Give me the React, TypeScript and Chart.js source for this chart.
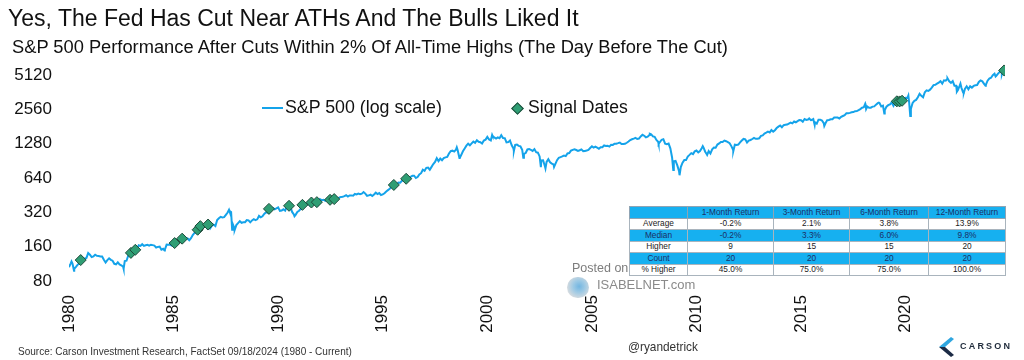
import React, { useEffect, useRef } from "react";
import { Chart, registerables } from "chart.js";

Chart.register(...registerables);

// Monthly S&P 500 closes, Jan 1980 onward (month-end values)
const spx1980s = [
  114.16, 113.66, 102.09, 106.29, 111.24, 114.24, 121.67, 122.38, 125.46, 127.47, 140.52, 135.76,
  129.55, 131.27, 136.0, 132.81, 132.59, 131.21, 130.92, 122.79, 116.18, 121.89, 126.35, 122.55,
  120.4, 113.11, 111.96, 116.44, 111.88, 109.61, 107.09, 119.51, 120.42, 133.71, 138.54, 140.64,
  145.3, 148.06, 152.96, 164.42, 162.39, 168.11, 162.56, 164.4, 166.07, 163.55, 166.4, 164.93,
  163.41, 157.06, 159.18, 160.05, 150.55, 153.18, 150.66, 166.68, 166.1, 166.09, 163.58, 167.24,
  179.63, 181.18, 180.66, 179.83, 189.55, 191.85, 190.92, 188.63, 182.08, 189.82, 202.17, 211.28,
  211.78, 226.92, 238.9, 235.52, 247.35, 250.84, 236.12, 252.93, 231.32, 243.98, 249.22, 242.17,
  274.08, 284.2, 291.7, 288.36, 290.1, 304.0, 318.66, 329.8, 321.83, 251.79, 230.3, 247.08,
  257.07, 267.82, 258.89, 261.33, 262.16, 273.5, 272.02, 261.52, 271.91, 278.97, 273.7, 277.72,
  297.47, 288.86, 294.87, 309.64, 320.52, 317.98, 346.08, 351.45, 349.15, 340.36, 345.99, 353.4,
];
const spx1990s = [
  329.08, 331.89, 339.94, 330.8, 361.23, 358.02, 356.15, 322.56, 306.05, 304.0, 322.22, 330.22,
  343.93, 367.07, 375.22, 375.35, 389.83, 371.16, 387.81, 395.43, 387.86, 392.46, 375.22, 417.09,
  408.79, 412.7, 403.69, 414.95, 415.35, 408.14, 424.21, 414.03, 417.8, 418.68, 431.35, 435.71,
  438.78, 443.38, 451.67, 440.19, 450.19, 450.53, 448.13, 463.56, 458.93, 467.83, 461.79, 466.45,
  481.61, 467.14, 445.77, 450.91, 456.5, 444.27, 458.26, 475.49, 462.69, 472.35, 453.69, 459.27,
  470.42, 487.39, 500.71, 514.71, 533.4, 544.75, 562.06, 561.88, 584.41, 581.5, 605.37, 615.93,
  636.02, 640.43, 645.5, 654.17, 669.12, 670.63, 639.95, 651.99, 687.33, 705.27, 757.02, 740.74,
  786.16, 790.82, 757.12, 801.34, 848.28, 885.14, 954.29, 899.47, 947.28, 914.62, 955.4, 970.43,
  980.28, 1049.34, 1101.75, 1111.75, 1090.82, 1133.84, 1120.67, 957.28, 1017.01, 1098.67, 1163.63, 1229.23,
  1279.64, 1238.33, 1286.37, 1335.18, 1301.84, 1372.71, 1328.72, 1320.41, 1282.71, 1362.93, 1388.91, 1469.25,
];
const spx2000s = [
  1394.46, 1366.42, 1498.58, 1452.43, 1420.6, 1454.6, 1430.83, 1517.68, 1436.51, 1429.4, 1314.95, 1320.28,
  1366.01, 1239.94, 1160.33, 1249.46, 1255.82, 1224.38, 1211.23, 1133.58, 1040.94, 1059.78, 1139.45, 1148.08,
  1130.2, 1106.73, 1147.39, 1076.92, 1067.14, 989.82, 911.62, 916.07, 815.28, 885.76, 936.31, 879.82,
  855.7, 841.15, 848.18, 916.92, 963.59, 974.5, 990.31, 1008.01, 995.97, 1050.71, 1058.2, 1111.92,
  1131.13, 1144.94, 1126.21, 1107.3, 1120.68, 1140.84, 1101.72, 1104.24, 1114.58, 1130.2, 1173.82, 1211.92,
  1181.27, 1203.6, 1180.59, 1156.85, 1191.5, 1191.33, 1234.18, 1220.33, 1228.81, 1207.01, 1249.48, 1248.29,
  1280.08, 1280.66, 1294.83, 1310.61, 1270.09, 1270.2, 1276.66, 1303.82, 1335.85, 1377.94, 1400.63, 1418.3,
  1438.24, 1406.82, 1420.86, 1482.37, 1530.62, 1503.35, 1455.27, 1473.99, 1526.75, 1549.38, 1481.14, 1468.36,
  1378.55, 1330.63, 1322.7, 1385.59, 1400.38, 1280.0, 1267.38, 1282.83, 1166.36, 968.75, 896.24, 903.25,
  825.88, 735.09, 797.87, 872.81, 919.14, 919.32, 987.48, 1020.62, 1057.08, 1036.19, 1095.63, 1115.1,
];
const spx2010s = [
  1073.87, 1104.49, 1169.43, 1186.69, 1089.41, 1030.71, 1101.6, 1049.33, 1141.2, 1183.26, 1180.55, 1257.64,
  1286.12, 1327.22, 1325.83, 1363.61, 1345.2, 1320.64, 1292.28, 1218.89, 1131.42, 1253.3, 1246.96, 1257.6,
  1312.41, 1365.68, 1408.47, 1397.91, 1310.33, 1362.16, 1379.32, 1406.58, 1440.67, 1412.16, 1416.18, 1426.19,
  1498.11, 1514.68, 1569.19, 1597.57, 1630.74, 1606.28, 1685.73, 1632.97, 1681.55, 1756.54, 1805.81, 1848.36,
  1782.59, 1859.45, 1872.34, 1883.95, 1923.57, 1960.23, 1930.67, 2003.37, 1972.29, 2018.05, 2067.56, 2058.9,
  1994.99, 2104.5, 2067.89, 2085.51, 2107.39, 2063.11, 2103.84, 1972.18, 1920.03, 2079.36, 2080.41, 2043.94,
  1940.24, 1932.23, 2059.74, 2065.3, 2096.95, 2098.86, 2173.6, 2170.95, 2168.27, 2126.15, 2198.81, 2238.83,
  2278.87, 2363.64, 2362.72, 2384.2, 2411.8, 2423.41, 2470.3, 2471.65, 2519.36, 2575.26, 2647.58, 2673.61,
  2823.81, 2713.83, 2640.87, 2648.05, 2705.27, 2718.37, 2816.29, 2901.52, 2913.98, 2711.74, 2760.17, 2506.85,
  2704.1, 2784.49, 2834.4, 2945.83, 2752.06, 2941.76, 2980.38, 2926.46, 2976.74, 3037.56, 3140.98, 3230.78,
];
const spx2020s = [
  3225.52, 2954.22, 2584.59, 2912.43, 3044.31, 3100.29, 3271.12, 3500.31, 3363.0, 3269.96, 3621.63, 3756.07,
  3714.24, 3811.15, 3972.89, 4181.17, 4204.11, 4297.5, 4395.26, 4522.68, 4307.54, 4605.38, 4567.0, 4766.18,
  4515.55, 4373.94, 4530.41, 4131.93, 4132.15, 3785.38, 4130.29, 3955.0, 3585.62, 3871.98, 4080.11, 3839.5,
  4076.6, 3970.15, 4109.31, 4169.48, 4179.83, 4450.38, 4588.96, 4507.66, 4288.05, 4193.8, 4567.8, 4769.83,
  4845.65, 5096.27, 5254.35, 5035.69, 5277.51, 5460.48, 5522.3, 5648.4,
];

// Notable intra-month levels (decimal year, value)
const intraDates = [
  1980.0, 1980.12, 1980.24, 1982.61, 1984.57, 1987.65, 1987.8, 1987.92, 1990.54, 1990.78,
  1998.54, 1998.68, 2000.23, 2001.27, 2001.72, 2002.56, 2002.78, 2003.19, 2007.77, 2008.19,
  2008.89, 2009.19, 2010.3, 2010.51, 2011.76, 2015.39, 2015.65, 2016.11, 2018.07, 2018.11,
  2018.72, 2018.98, 2020.13, 2020.22, 2022.0, 2022.45, 2022.62, 2022.78, 2023.82, 2024.3,
  2024.54, 2024.6, 2024.71,
];
const intraValues = [
  105.76, 118.44, 98.22, 102.42, 147.82, 336.77, 224.84, 223.92, 368.95, 295.46,
  1186.75, 959.44, 1527.46, 1103.25, 965.8, 797.7, 776.76, 800.73, 1565.15, 1273.37,
  752.44, 676.53, 1217.28, 1022.58, 1099.23, 2130.82, 1867.61, 1829.08, 2872.87, 2581.0,
  2930.75, 2351.1, 3386.15, 2237.4, 4796.56, 3666.77, 4305.2, 3577.03, 4117.37, 4967.23,
  5667.2, 5186.33, 5618.26,
];

// Signal dates: Fed cuts within 2% of all-time highs
const signalDates = [
  1980.56, 1982.96, 1983.17, 1985.05, 1985.41, 1986.15, 1986.28, 1986.65, 1989.56, 1990.52,
  1991.16, 1991.59, 1991.85, 1992.48, 1992.68, 1995.53, 1996.12, 2019.58, 2019.71, 2019.83, 2024.71,
];
const signalValues = [
  122, 141, 150, 172, 188, 225, 242, 250, 343, 365,
  372, 390, 393, 412, 418, 556, 630, 3013, 3006, 3046, 5618,
];

const xTickYears = [1980, 1985, 1990, 1995, 2000, 2005, 2010, 2015, 2020];
const yTickValues = [80, 160, 320, 640, 1280, 2560, 5120];

const tableHeader = ["", "1-Month Return", "3-Month Return", "6-Month Return", "12-Month Return"];
const tableRows = [
  ["Average", "-0.2%", "2.1%", "3.8%", "13.9%"],
  ["Median", "-0.2%", "3.3%", "6.0%", "9.8%"],
  ["Higher", "9", "15", "15", "20"],
  ["Count", "20", "20", "20", "20"],
  ["% Higher", "45.0%", "75.0%", "75.0%", "100.0%"],
];
const tableBlueRows = [false, true, false, true, false];

const FONT = "'Liberation Sans', Arial, Helvetica, sans-serif";
const LINE_COLOR = "#14a3ea";
const DIAMOND_FILL = "#2f9e74";
const DIAMOND_EDGE = "#1d4a3a";
const TABLE_BLUE = "#16b0f0";

function buildLine() {
  const monthly = [...spx1980s, ...spx1990s, ...spx2000s, ...spx2010s, ...spx2020s];
  const pts: { x: number; y: number }[] = monthly.map((v, i) => ({ x: 1980 + (i + 1) / 12, y: v }));
  intraDates.forEach((d, i) => pts.push({ x: d, y: intraValues[i] }));
  pts.sort((a, b) => a.x - b.x);
  return pts;
}

export default function App() {
  const canvasRef = useRef<HTMLCanvasElement>(null);

  useEffect(() => {
    const canvas = canvasRef.current;
    if (!canvas) return;
    const tickFont = { family: FONT, size: 17 };
    const chart = new Chart(canvas, {
      type: "scatter",
      data: {
        datasets: [
          {
            label: "Signal Dates",
            data: signalDates.map((d, i) => ({ x: d, y: signalValues[i] })),
            pointStyle: "rectRot",
            pointRadius: 5.5,
            backgroundColor: DIAMOND_FILL,
            borderColor: DIAMOND_EDGE,
            borderWidth: 1,
            showLine: false,
            order: 0,
          },
          {
            label: "S&P 500 (log scale)",
            data: buildLine(),
            showLine: true,
            borderColor: LINE_COLOR,
            borderWidth: 2,
            pointRadius: 0,
            tension: 0,
            order: 1,
          },
        ],
      },
      options: {
        responsive: false,
        animation: false,
        events: [],
        layout: { padding: { left: 0, right: 19, top: 64, bottom: 0 } },
        plugins: { legend: { display: false }, tooltip: { enabled: false }, title: { display: false } },
        scales: {
          x: {
            type: "linear",
            min: 1980,
            max: 2024.75,
            grid: { display: false, drawTicks: false },
            border: { display: false },
            afterBuildTicks: (s: any) => {
              s.ticks = xTickYears.map((v) => ({ value: v }));
            },
            afterFit: (s: any) => {
              s.height = 71;
            },
            ticks: {
              autoSkip: false,
              minRotation: 90,
              maxRotation: 90,
              padding: 6,
              color: "#111",
              font: tickFont,
              callback: (v: any) => String(v),
            },
          },
          y: {
            type: "logarithmic",
            min: 68,
            max: 6400,
            grid: { display: false, drawTicks: false },
            border: { display: false },
            afterBuildTicks: (s: any) => {
              s.ticks = yTickValues.map((v) => ({ value: v }));
            },
            afterFit: (s: any) => {
              s.width = 69;
            },
            ticks: {
              autoSkip: false,
              padding: 17,
              color: "#111",
              font: tickFont,
              callback: (v: any) => String(v),
            },
          },
        },
      },
    } as any);
    return () => chart.destroy();
  }, []);

  const abs = (s: React.CSSProperties): React.CSSProperties => ({ position: "absolute", whiteSpace: "nowrap", ...s });
  const colWidths = [58, 86, 76, 79, 77];

  return (
    <div style={{ position: "absolute", left: 0, top: 0, width: 1024, height: 360, background: "#fff", fontFamily: FONT, overflow: "hidden" }}>
      <canvas ref={canvasRef} width={1024} height={360} style={{ position: "absolute", left: 0, top: 0 }} />

      <div style={abs({ left: 8, top: 5, fontSize: 23, lineHeight: "26px", color: "#111" })}>
        Yes, The Fed Has Cut Near ATHs And The Bulls Liked It
      </div>
      <div style={abs({ left: 12, top: 36, fontSize: 18.3, lineHeight: "21px", color: "#111" })}>
        S&amp;P 500 Performance After Cuts Within 2% Of All-Time Highs (The Day Before The Cut)
      </div>

      {/* legend */}
      <div style={abs({ left: 262, top: 107, width: 21, height: 2, background: LINE_COLOR })} />
      <div style={abs({ left: 285, top: 97, fontSize: 17.8, lineHeight: "21px", color: "#111" })}>S&amp;P 500 (log scale)</div>
      <div
        style={abs({
          left: 513,
          top: 104,
          width: 7,
          height: 7,
          background: DIAMOND_FILL,
          border: `1px solid ${DIAMOND_EDGE}`,
          transform: "rotate(45deg)",
        })}
      />
      <div style={abs({ left: 528, top: 97, fontSize: 17.6, lineHeight: "21px", color: "#111" })}>Signal Dates</div>

      {/* watermark */}
      <div style={abs({ left: 572, top: 261, fontSize: 12.5, lineHeight: "14px", color: "#7d7d7d" })}>Posted on</div>
      <div
        style={abs({
          left: 567,
          top: 277,
          width: 22,
          height: 21,
          borderRadius: 11,
          background: "radial-gradient(circle at 55% 45%, #5aa9dc 0%, #8cc0e0 35%, #c9d3da 70%, #e6eaee 100%)",
          opacity: 0.85,
        })}
      />
      <div style={abs({ left: 597, top: 277, fontSize: 13, lineHeight: "15px", color: "#8a8a8a" })}>ISABELNET.com</div>

      {/* stats table */}
      <table
        style={{
          position: "absolute",
          left: 629,
          top: 206,
          borderCollapse: "collapse",
          tableLayout: "fixed",
          width: colWidths.reduce((a, b) => a + b, 0),
          height: 70,
          fontSize: 8.3,
          lineHeight: "9px",
          fontFamily: FONT,
        }}
      >
        <colgroup>
          {colWidths.map((w, i) => (
            <col key={i} style={{ width: w }} />
          ))}
        </colgroup>
        <tbody>
          <tr style={{ background: TABLE_BLUE }}>
            {tableHeader.map((h, i) => (
              <td key={i} style={{ border: "1px solid #8fa4b4", textAlign: "center", color: "#1b2f66", padding: 0 }}>
                {h}
              </td>
            ))}
          </tr>
          {tableRows.map((row, r) => (
            <tr key={r} style={{ background: tableBlueRows[r] ? TABLE_BLUE : "#fff" }}>
              {row.map((c, i) => (
                <td
                  key={i}
                  style={{
                    border: "1px solid #a9b4bd",
                    textAlign: "center",
                    color: tableBlueRows[r] ? "#1b2f66" : "#222",
                    padding: 0,
                  }}
                >
                  {c}
                </td>
              ))}
            </tr>
          ))}
        </tbody>
      </table>

      {/* footer */}
      <div style={abs({ left: 18, top: 345, fontSize: 11, lineHeight: "13px", color: "#333", transform: "scaleX(0.91)", transformOrigin: "left" })}>
        Source: Carson Investment Research, FactSet 09/18/2024 (1980 - Current)
      </div>
      <div style={abs({ left: 628, top: 339, fontSize: 13, lineHeight: "15px", color: "#333", transform: "scaleX(0.91)", transformOrigin: "left" })}>
        @ryandetrick
      </div>
      <svg style={{ position: "absolute", left: 939, top: 337 }} width={16} height={20} viewBox="0 0 16 20">
        <polygon points="12,0 0,10 6,10 15,2" fill="#2fa6e0" />
        <polygon points="0,10 12,20 15,18 6,10" fill="#1c2b45" />
      </svg>
      <div style={abs({ left: 960, top: 341, fontSize: 9, lineHeight: "11px", letterSpacing: 2.2, fontWeight: 700, color: "#1e2a3a" })}>
        CARSON
      </div>
    </div>
  );
}
